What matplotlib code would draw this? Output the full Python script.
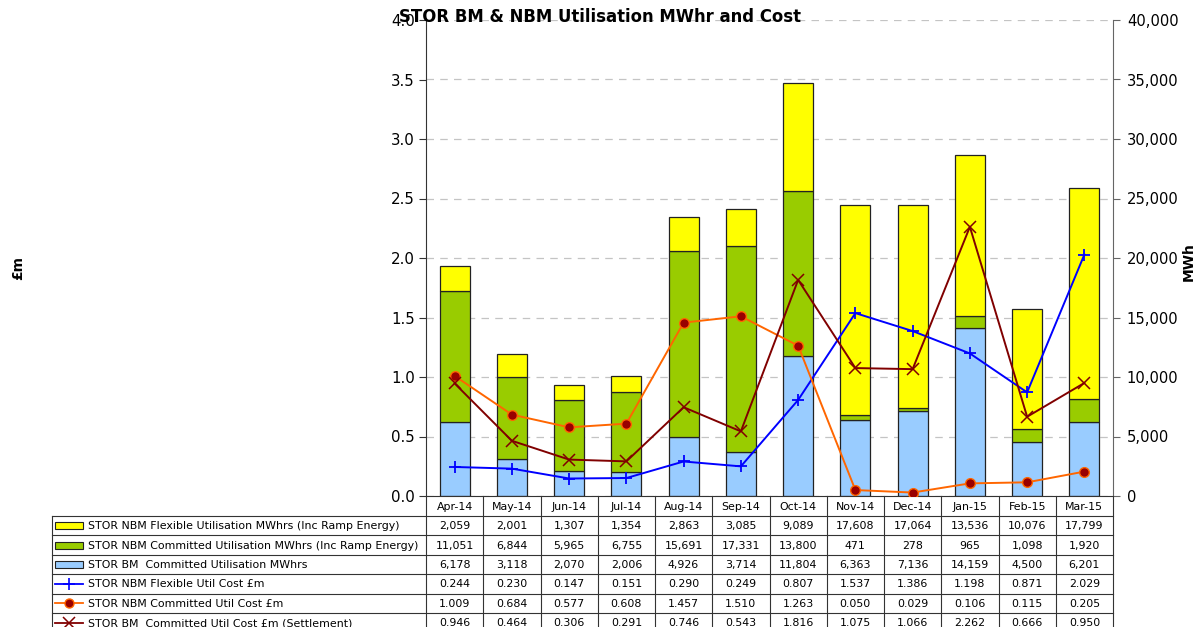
import matplotlib
matplotlib.use("Agg")
import matplotlib.pyplot as plt
import numpy as np
from matplotlib.patches import Rectangle
from matplotlib.lines import Line2D
from matplotlib.transforms import blended_transform_factory
from matplotlib.ticker import FuncFormatter, MultipleLocator

plt.rcParams['font.family'] = ['DejaVu Sans']

months = ["Apr-14", "May-14", "Jun-14", "Jul-14", "Aug-14", "Sep-14", "Oct-14",
          "Nov-14", "Dec-14", "Jan-15", "Feb-15", "Mar-15"]
nbm_flex_mwh = [2059, 2001, 1307, 1354, 2863, 3085, 9089, 17608, 17064, 13536, 10076, 17799]
nbm_comm_mwh = [11051, 6844, 5965, 6755, 15691, 17331, 13800, 471, 278, 965, 1098, 1920]
bm_comm_mwh = [6178, 3118, 2070, 2006, 4926, 3714, 11804, 6363, 7136, 14159, 4500, 6201]
nbm_flex_cost = [0.244, 0.230, 0.147, 0.151, 0.290, 0.249, 0.807, 1.537, 1.386, 1.198, 0.871, 2.029]
nbm_comm_cost = [1.009, 0.684, 0.577, 0.608, 1.457, 1.510, 1.263, 0.050, 0.029, 0.106, 0.115, 0.205]
bm_comm_cost = [0.946, 0.464, 0.306, 0.291, 0.746, 0.543, 1.816, 1.075, 1.066, 2.262, 0.666, 0.950]

labels = ["STOR NBM Flexible Utilisation MWhrs (Inc Ramp Energy)",
          "STOR NBM Committed Utilisation MWhrs (Inc Ramp Energy)",
          "STOR BM  Committed Utilisation MWhrs",
          "STOR NBM Flexible Util Cost £m",
          "STOR NBM Committed Util Cost £m",
          "STOR BM  Committed Util Cost £m (Settlement)"]

c_yellow = "#FFFF00"
c_green = "#99CC00"
c_lblue = "#99CCFF"
c_blue = "#0000FF"
c_orange = "#FF6600"
c_dred = "#800000"
c_mark = "#990000"

W, H = 1202, 627
fig = plt.figure(figsize=(W / 100, H / 100), dpi=100)
fig.patch.set_facecolor("white")

ax_l, ax_r, ax_t, ax_b = 426, 1113, 20, 496
ax = fig.add_axes([ax_l / W, (H - ax_b) / H, (ax_r - ax_l) / W, (ax_b - ax_t) / H])
ax2 = ax.twinx()
ax.set_zorder(3)
ax2.set_zorder(2)
ax.patch.set_visible(False)

x = np.arange(len(months))
bw = 0.52
b1 = np.array(bm_comm_mwh)
b2 = np.array(nbm_comm_mwh)
b3 = np.array(nbm_flex_mwh)
ax2.bar(x, b1, bw, color=c_lblue, edgecolor="#222222", linewidth=0.9, zorder=2)
ax2.bar(x, b2, bw, bottom=b1, color=c_green, edgecolor="#222222", linewidth=0.9, zorder=2)
ax2.bar(x, b3, bw, bottom=b1 + b2, color=c_yellow, edgecolor="#222222", linewidth=0.9, zorder=2)
ax2.set_ylim(0, 40000)
ax2.yaxis.set_major_locator(MultipleLocator(5000))
ax2.yaxis.set_major_formatter(FuncFormatter(lambda v, p: f"{int(v):,}"))
ax2.grid(axis="y", color="#c4c4c4", linestyle=(0, (6, 5)), linewidth=0.9)
ax2.set_axisbelow(True)

ax.plot(x, nbm_flex_cost, color=c_blue, linewidth=1.4, marker="+", markersize=9,
        markeredgewidth=1.3, zorder=4)
ax.plot(x, nbm_comm_cost, color=c_orange, linewidth=1.4, marker="o", markersize=7,
        markerfacecolor=c_mark, markeredgecolor=c_orange, markeredgewidth=1.0, zorder=4)
ax.plot(x, bm_comm_cost, color=c_dred, linewidth=1.4, marker="x", markersize=8,
        markeredgewidth=1.1, zorder=4)
ax.set_ylim(0, 4.0)
ax.set_xlim(-0.5, len(months) - 0.5)
ax2.set_xlim(-0.5, len(months) - 0.5)
ax.yaxis.set_major_locator(MultipleLocator(0.5))
ax.yaxis.set_major_formatter(FuncFormatter(lambda v, p: f"{v:.1f}"))
ax.set_xticks([])
ax2.set_xticks([])

for a in (ax, ax2):
    a.spines["top"].set_visible(False)
ax.spines["left"].set_color("#333333")
ax.spines["right"].set_visible(False)
ax2.spines["left"].set_visible(False)
ax2.spines["right"].set_color("#666666")
ax.spines["bottom"].set_color("#333333")
ax2.spines["bottom"].set_visible(False)
ax.tick_params(axis="y", labelsize=10.8, length=5, width=0.8, color="#333333", pad=3)
ax2.tick_params(axis="y", labelsize=10.6, length=5, width=0.8, color="#666666", pad=5)

fig.text(600 / W, 1 - 17 / H, "STOR BM & NBM Utilisation MWhr and Cost", ha="center",
         va="center", fontsize=11.9, fontweight="bold")
fig.text(18 / W, 1 - 268 / H, "£m", ha="center", va="center", rotation=90,
         fontsize=10, fontweight="bold")
fig.text(1189 / W, 1 - 262 / H, "MWh", ha="center", va="center", rotation=90,
         fontsize=10, fontweight="bold")

# Data table below the axes
tax = fig.add_axes([0, 0, 1, 1], zorder=1)
tax.set_xlim(0, W)
tax.set_ylim(H, 0)
tax.axis("off")
colT = blended_transform_factory(ax.transData, tax.transData)
lc = "#333333"
lw = 0.8
row_h = 19.4
hdr_top, hdr_bot = ax_b, 516
n = len(months)
rows_y = [hdr_bot + k * row_h for k in range(len(labels) + 1)]
tab_left = 52

for k in range(n + 1):
    tax.plot([k - 0.5, k - 0.5], [hdr_top, rows_y[-1]], color=lc, lw=lw, transform=colT,
             clip_on=False)
tax.plot([tab_left, tab_left], [hdr_bot, rows_y[-1]], color=lc, lw=lw, clip_on=False)
for yy in rows_y:
    tax.plot([tab_left, ax_r], [yy, yy], color=lc, lw=lw, clip_on=False)

tfs = 7.9
for i, m in enumerate(months):
    tax.text(i, (hdr_top + hdr_bot) / 2 + 0.5, m, transform=colT, ha="center", va="center",
             fontsize=tfs)

series = [nbm_flex_mwh, nbm_comm_mwh, bm_comm_mwh, nbm_flex_cost, nbm_comm_cost, bm_comm_cost]
for r, (lab, vals) in enumerate(zip(labels, series)):
    yc = (rows_y[r] + rows_y[r + 1]) / 2
    tax.text(88, yc + 0.5, lab, ha="left", va="center", fontsize=tfs)
    for i, v in enumerate(vals):
        s = f"{v:,}" if r < 3 else f"{v:.3f}"
        tax.text(i, yc + 0.5, s, transform=colT, ha="center", va="center", fontsize=tfs)

swatch_fc = [c_yellow, c_green, c_lblue]
for r in range(3):
    yc = (rows_y[r] + rows_y[r + 1]) / 2
    tax.add_patch(Rectangle((55, yc - 3.5), 28, 7, facecolor=swatch_fc[r],
                            edgecolor="#222222", lw=0.8, clip_on=False))
line_styles = [dict(color=c_blue, marker="+", markersize=9, markeredgewidth=1.2),
               dict(color=c_orange, marker="o", markersize=6.5, markerfacecolor=c_mark,
                    markeredgecolor=c_orange, markeredgewidth=1.0),
               dict(color=c_dred, marker="x", markersize=8, markeredgewidth=1.1)]
for j, st in enumerate(line_styles):
    r = 3 + j
    yc = (rows_y[r] + rows_y[r + 1]) / 2
    tax.add_line(Line2D([55, 83], [yc, yc], lw=1.3, color=st["color"], clip_on=False))
    kw = dict(st)
    kw.pop("color")
    tax.add_line(Line2D([69], [yc], color=st["color"], linestyle="none", clip_on=False, **kw))

fig.savefig("out.png", dpi=100, facecolor="white")
